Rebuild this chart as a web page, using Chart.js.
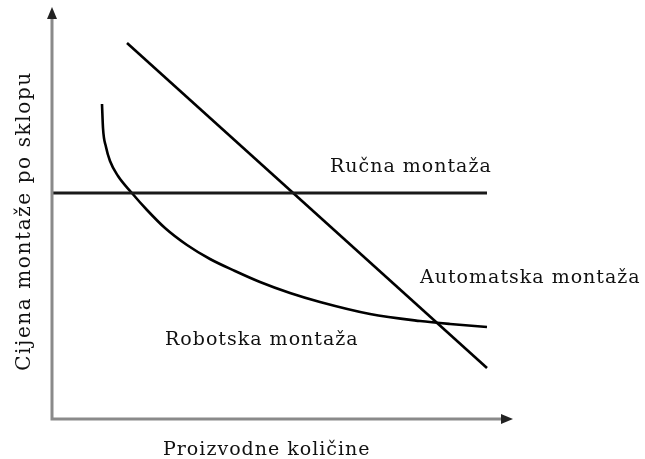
<!DOCTYPE html>
<html>
<head>
<meta charset="utf-8">
<script src="https://cdn.jsdelivr.net/npm/chart.js@4"></script>
<style>
  html, body { margin: 0; padding: 0; background: #fff; }
  #wrap { width: 645px; height: 459px; }
</style>
</head>
<body>
<div id="wrap"><canvas id="graf"></canvas></div>
<script>
// podaci (x = proizvodna količina, y = cijena, proizvoljne jedinice)
const rucnaX = [0, 435];
const rucnaY = [226, 226];
const automatskaX = [75, 435];
const automatskaY = [376, 51];
const robotskaX = [50, 51, 54, 58, 66, 79, 95, 113, 135, 158, 183, 208, 238, 268, 318, 368, 398, 435];
const robotskaY = [315, 291, 272, 258, 243, 227, 209, 191, 174, 160, 148, 137, 126, 117, 105, 98, 95, 92];

const nazivi = ["Ručna montaža", "Automatska montaža", "Robotska montaža"];
const naslovX = "Proizvodne količine";
const naslovY = "Cijena montaže po sklopu";

function tocke(xs, ys) {
    return xs.map(function (x, i) { return { x: x, y: ys[i] }; });
}

const osiPlugin = {
    id: "osi",
    afterDraw: function (chart) {
        const ctx = chart.ctx;
        const a = chart.chartArea;
        const sx = chart.scales.x, sy = chart.scales.y;
        ctx.save();
        // osi
        ctx.strokeStyle = "#8a8a8a";
        ctx.lineWidth = 3;
        ctx.beginPath();
        ctx.moveTo(a.left, a.top + 10);
        ctx.lineTo(a.left, a.bottom);
        ctx.lineTo(a.right - 10, a.bottom);
        ctx.stroke();
        ctx.fillStyle = "#222";
        ctx.beginPath();
        ctx.moveTo(a.left, a.top);
        ctx.lineTo(a.left - 5, a.top + 12);
        ctx.lineTo(a.left + 5, a.top + 12);
        ctx.closePath();
        ctx.fill();
        ctx.beginPath();
        ctx.moveTo(a.right, a.bottom);
        ctx.lineTo(a.right - 12, a.bottom - 5);
        ctx.lineTo(a.right - 12, a.bottom + 5);
        ctx.closePath();
        ctx.fill();

        // natpisi
        ctx.fillStyle = "#111";
        ctx.font = '19px "DejaVu Serif"';
        ctx.letterSpacing = "1px";
        ctx.textBaseline = "middle";
        ctx.textAlign = "left";
        ctx.fillText(nazivi[0], sx.getPixelForValue(278), sy.getPixelForValue(252));
        ctx.fillText(nazivi[1], sx.getPixelForValue(368), sy.getPixelForValue(141));
        ctx.fillText(nazivi[2], sx.getPixelForValue(113), sy.getPixelForValue(79));
        ctx.fillText(naslovX, 163, 450);
        ctx.font = '20px "DejaVu Serif"';
        ctx.letterSpacing = "1.6px";
        ctx.translate(25, 221);
        ctx.rotate(-Math.PI / 2);
        ctx.textAlign = "center";
        ctx.fillText(naslovY, 0, 0);
        ctx.restore();
    }
};

new Chart(document.getElementById("graf"), {
    type: "scatter",
    data: {
        datasets: [
            {
                label: nazivi[0],
                data: tocke(rucnaX, rucnaY),
                showLine: true,
                borderColor: "#1a1a1a",
                borderWidth: 3,
                pointRadius: 0
            },
            {
                label: nazivi[1],
                data: tocke(automatskaX, automatskaY),
                showLine: true,
                borderColor: "#000",
                borderWidth: 2.6,
                pointRadius: 0
            },
            {
                label: nazivi[2],
                data: tocke(robotskaX, robotskaY),
                showLine: true,
                cubicInterpolationMode: "monotone",
                borderColor: "#000",
                borderWidth: 2.6,
                pointRadius: 0
            }
        ]
    },
    options: {
        responsive: true,
        maintainAspectRatio: false,
        animation: false,
        layout: { padding: { left: 52, right: 132, top: 7, bottom: 40 } },
        plugins: {
            legend: { display: false },
            tooltip: { enabled: false }
        },
        scales: {
            x: { display: false, min: 0, max: 461 },
            y: { display: false, min: 0, max: 412 }
        }
    },
    plugins: [osiPlugin]
});
</script>
</body>
</html>
